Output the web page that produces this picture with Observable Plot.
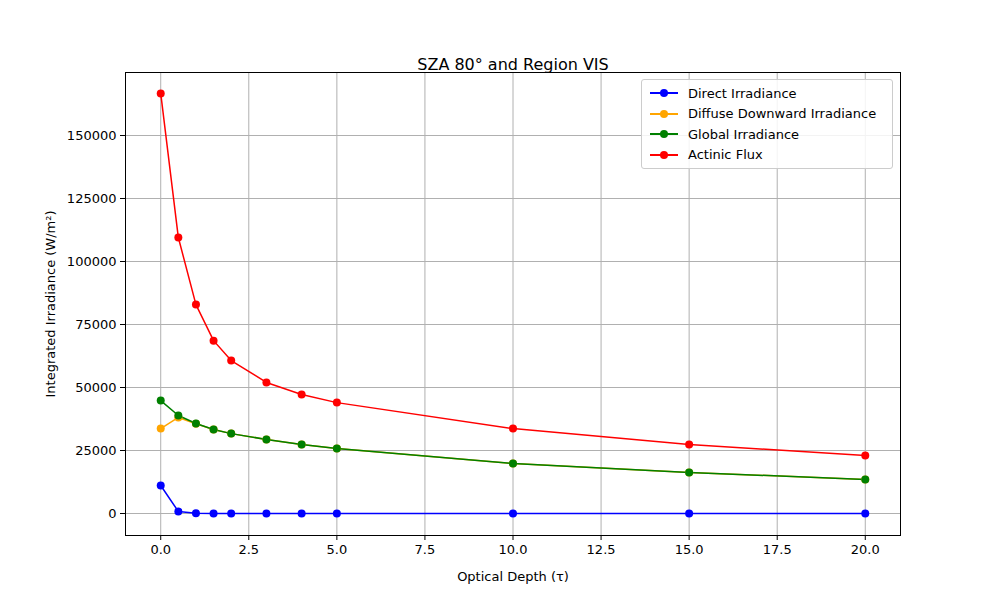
<!DOCTYPE html>
<html>
<head>
<meta charset="utf-8">
<script src="https://cdn.jsdelivr.net/npm/d3@7"></script>
<script src="https://cdn.jsdelivr.net/npm/@observablehq/plot@0.6"></script>
<style>
  body { margin: 0; background: #fff; font-family: "DejaVu Sans", sans-serif; }
  #wrap { position: relative; width: 1000px; height: 600px; }
  #legend { position: absolute; left: 641px; top: 79px; width: 250px; padding: 3px 0;
    border: 1px solid #ccc; border-radius: 3px; background: rgba(255,255,255,0.85); font-size: 13px; }
  .item { display: flex; align-items: center; height: 20.5px; }
  .sw { position: relative; width: 28px; margin: 0 10px 0 8px; height: 2px; }
  .sw::after { content: ""; position: absolute; left: 10px; top: -3px; width: 8px; height: 8px; border-radius: 50%; background: inherit; }
</style>
</head>
<body>
<div id="wrap"><div id="chart"></div><div id="legend"></div></div>
<script>
const tau = [0, 0.5, 1, 1.5, 2, 3, 4, 5, 10, 15, 20];
const direct = [11100, 800, 100, 0, 0, 0, 0, 0, 0, 0, 0];
const diffuse = [33700, 38100, 35600, 33300, 31700, 29400, 27400, 25800, 19800, 16300, 13500];
const global = [44800, 38900, 35700, 33300, 31700, 29400, 27400, 25800, 19800, 16300, 13500];
const actinic = [166700, 109500, 82900, 68600, 60700, 52000, 47200, 44000, 33700, 27400, 23000];

const series = [
  {name: "Direct Irradiance", values: direct, color: "blue"},
  {name: "Diffuse Downward Irradiance", values: diffuse, color: "orange"},
  {name: "Global Irradiance", values: global, color: "green"},
  {name: "Actinic Flux", values: actinic, color: "red"}
];
const rows = series.flatMap(s => s.values.map((v, i) => ({tau: tau[i], value: v, name: s.name})));

const chart = Plot.plot({
  width: 1000, height: 600,
  marginLeft: 125, marginRight: 100, marginTop: 72, marginBottom: 65,
  style: {fontFamily: "DejaVu Sans, sans-serif", fontSize: "13px", color: "black"},
  x: {domain: [-1, 21], ticks: d3.range(0, 20.1, 2.5), tickFormat: d3.format(".1f"),
      label: "Optical Depth (τ)", labelAnchor: "center", labelArrow: "none", labelOffset: 45, tickSize: 5},
  y: {domain: [-8730, 175000], ticks: d3.range(0, 150001, 25000), tickFormat: d3.format("d"),
      label: "Integrated Irradiance (W/m²)", labelAnchor: "center", labelArrow: "none", labelOffset: 80, tickSize: 5},
  color: {domain: series.map(s => s.name), range: series.map(s => s.color)},
  marks: [
    Plot.gridX(d3.range(0, 20.1, 2.5), {stroke: "#b0b0b0", strokeOpacity: 1}),
    Plot.gridY(d3.range(0, 150001, 25000), {stroke: "#b0b0b0", strokeOpacity: 1}),
    Plot.line(rows, {x: "tau", y: "value", z: "name", stroke: "name", strokeWidth: 1.5}),
    Plot.dot(rows, {x: "tau", y: "value", fill: "name", r: 4}),
    Plot.frame({stroke: "black"}),
    Plot.text(["SZA 80° and Region VIS"], {frameAnchor: "top", dy: -14, fontSize: 16})
  ]
});
document.getElementById("chart").append(chart);

const legend = d3.select("#legend");
series.forEach(s => {
  const it = legend.append("div").attr("class", "item");
  it.append("div").attr("class", "sw").style("background", s.color);
  it.append("span").text(s.name);
});
</script>
</body>
</html>
